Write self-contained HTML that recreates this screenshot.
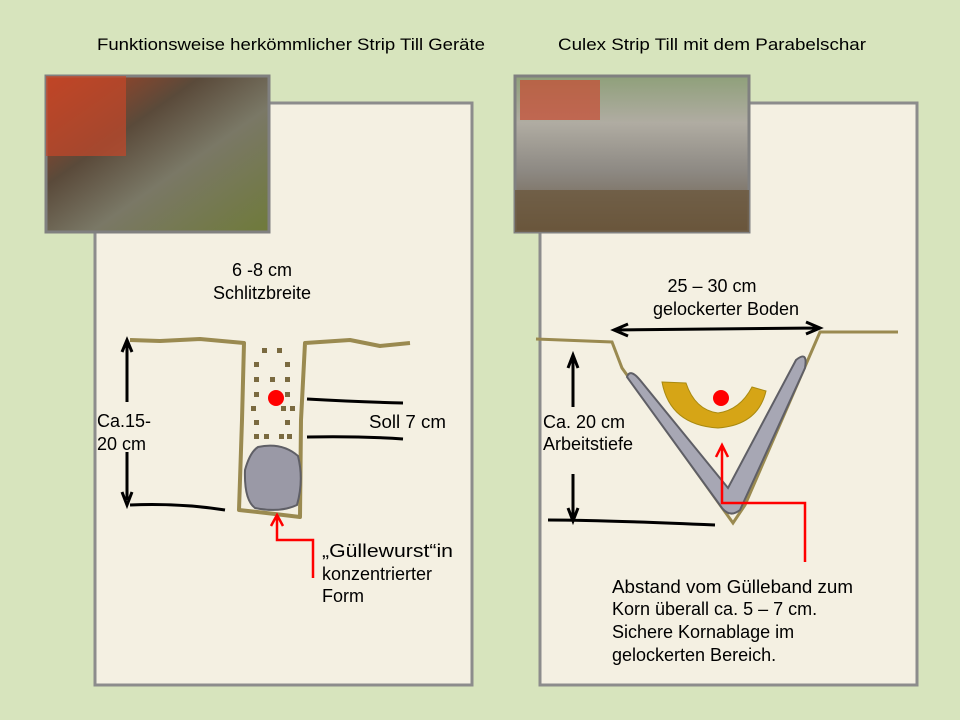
<!DOCTYPE html>
<html><head><meta charset="utf-8"><style>
body{margin:0;width:960px;height:720px;background:#d7e4bd;overflow:hidden}
svg{display:block}
text{font-family:"Liberation Sans",sans-serif;fill:#000}
</style></head><body>
<svg width="960" height="720" viewBox="0 0 960 720">
<defs>
<linearGradient id="p1" x1="0" y1="0" x2="1" y2="1"><stop offset="0" stop-color="#b8401f"/><stop offset="0.35" stop-color="#5a4a3a"/><stop offset="0.6" stop-color="#7a7866"/><stop offset="1" stop-color="#6f7a3a"/></linearGradient>
<linearGradient id="p2" x1="0" y1="0" x2="0" y2="1"><stop offset="0" stop-color="#8fa07a"/><stop offset="0.3" stop-color="#b0aca2"/><stop offset="0.6" stop-color="#8e8a84"/><stop offset="1" stop-color="#6a5a44"/></linearGradient>
</defs>
<text x="97" y="50" font-size="17" textLength="388" lengthAdjust="spacingAndGlyphs">Funktionsweise herkömmlicher Strip Till Geräte</text>
<text x="558" y="50" font-size="17" textLength="308" lengthAdjust="spacingAndGlyphs">Culex Strip Till mit dem Parabelschar</text>
<rect x="95" y="103" width="377" height="582" fill="#f4f0e2" stroke="#8c8c8c" stroke-width="3"/>
<rect x="540" y="103" width="377" height="582" fill="#f4f0e2" stroke="#8c8c8c" stroke-width="3"/>
<rect x="46" y="76" width="223" height="156" fill="url(#p1)" stroke="#808080" stroke-width="3"/>
<rect x="46" y="76" width="80" height="80" fill="#c4472a" opacity="0.7"/>
<rect x="515" y="76" width="234" height="156" fill="url(#p2)" stroke="#808080" stroke-width="3"/>
<rect x="520" y="80" width="80" height="40" fill="#c84a30" opacity="0.7"/>
<rect x="515" y="190" width="234" height="42" fill="#6a5438" opacity="0.7"/>

<g font-size="18">
<!-- left diagram -->
<text x="262" y="276" text-anchor="middle">6 -8 cm</text>
<text x="262" y="299" text-anchor="middle">Schlitzbreite</text>
<path d="M130,340 L160,341 L200,339 L244,343 L242,420 L239,510 L275,514 L300,517 L301,420 L305,343 L350,340 L380,346 L410,343" fill="none" stroke="#9a8a50" stroke-width="4" stroke-linejoin="round"/>
<path d="M258,447 Q250,452 245,470 Q244,500 255,508 Q280,513 297,505 Q304,480 298,456 Q282,442 258,447Z" fill="#9a99a6" stroke="#5f5f66" stroke-width="2"/>
<g fill="#7a6a40">
<rect x="262" y="348" width="5" height="5"/><rect x="277" y="348" width="5" height="5"/>
<rect x="254" y="362" width="5" height="5"/><rect x="285" y="362" width="5" height="5"/>
<rect x="254" y="377" width="5" height="5"/><rect x="270" y="377" width="5" height="5"/><rect x="285" y="377" width="5" height="5"/>
<rect x="254" y="392" width="5" height="5"/><rect x="285" y="392" width="5" height="5"/>
<rect x="251" y="406" width="5" height="5"/><rect x="281" y="406" width="5" height="5"/><rect x="290" y="406" width="5" height="5"/>
<rect x="254" y="420" width="5" height="5"/><rect x="285" y="420" width="5" height="5"/>
<rect x="254" y="434" width="5" height="5"/><rect x="264" y="434" width="5" height="5"/><rect x="279" y="434" width="5" height="5"/><rect x="287" y="434" width="5" height="5"/>
</g>
<circle cx="276" cy="398" r="8" fill="#ff0000"/>
<path d="M307,399 Q360,402 403,403 M307,437 Q360,436 403,439" fill="none" stroke="#000" stroke-width="3"/>
<text x="369" y="428" textLength="77" lengthAdjust="spacingAndGlyphs">Soll 7 cm</text>
<path d="M127,402 L127,342 M122,352 L127,340 L132,352 M127,452 L127,500 M122,492 L127,505 L132,492 M130,505 Q180,503 225,510" fill="none" stroke="#000" stroke-width="3"/>
<text x="97" y="427">Ca.15-</text>
<text x="97" y="450">20 cm</text>
<path d="M277,516 L277,540 L313,540 L313,578 M271,526 L277,515 L283,526" fill="none" stroke="#ff0000" stroke-width="2.5"/>
<text x="322" y="557" textLength="131" lengthAdjust="spacingAndGlyphs">„Güllewurst“in</text>
<text x="322" y="580">konzentrierter</text>
<text x="322" y="602">Form</text>

<!-- right diagram -->
<text x="712" y="292" text-anchor="middle">25 – 30 cm</text>
<text x="726" y="315" text-anchor="middle">gelockerter Boden</text>
<path d="M615,330 L818,328 M628,324 L614,330 L628,336 M806,322 L820,328 L806,334" fill="none" stroke="#000" stroke-width="3"/>
<path d="M536,339 L612,342 L622,368 L733,523 L745,505 L820,332 L898,332" fill="none" stroke="#9a8a50" stroke-width="3"/>
<path d="M627,377 Q630,368 640,380 L728,488 L796,360 Q808,350 805,368 L740,510 Q730,518 722,508 Z" fill="#a7a7b4" stroke="#5f5f66" stroke-width="2"/>
<path d="M662,382 L686,383 Q695,410 718,413 Q740,410 752,387 L766,391 Q758,425 718,428 Q670,425 662,382Z" fill="#d6a516" stroke="#a98a10" stroke-width="1"/>
<circle cx="721" cy="398" r="8" fill="#ff0000"/>
<path d="M573,407 L573,357 M568,368 L573,355 L578,368 M573,474 L573,518 M568,508 L573,521 L578,508 M548,520 Q600,520 715,525" fill="none" stroke="#000" stroke-width="3"/>
<text x="543" y="428">Ca. 20 cm</text>
<text x="543" y="450">Arbeitstiefe</text>
<path d="M722,446 L722,503 L805,503 L805,562 M716,457 L722,445 L728,457" fill="none" stroke="#ff0000" stroke-width="2.5"/>
<text x="612" y="593" textLength="241" lengthAdjust="spacingAndGlyphs">Abstand vom Gülleband zum</text>
<text x="612" y="615">Korn überall ca. 5 – 7 cm.</text>
<text x="612" y="638">Sichere Kornablage im</text>
<text x="612" y="661">gelockerten Bereich.</text>
</g>
</svg>
</body></html>
